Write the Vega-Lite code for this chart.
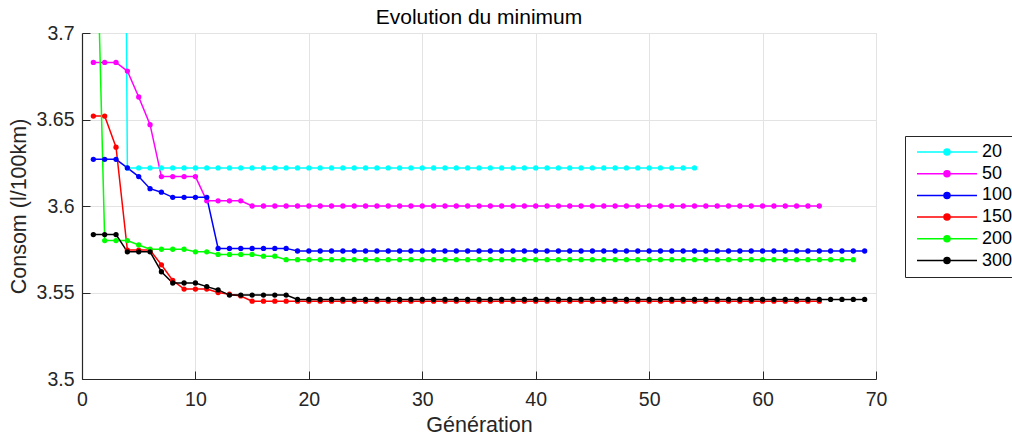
{
  "$schema": "https://vega.github.io/schema/vega-lite/v6.json",
  "width": 794,
  "height": 346,
  "autosize": {"type": "none"},
  "padding": {"left": 82, "top": 33, "right": 136, "bottom": 62},
  "background": "white",
  "view": {"stroke": "#dcdcdc", "strokeWidth": 1},
  "title": {"text": "Evolution du minimum", "font": "Liberation Sans", "fontSize": 21, "fontWeight": "normal", "color": "#000000", "anchor": "middle", "offset": 9, "dy": 14},
  "data": {"values": [
    {"g": 1, "20": 4.6, "50": 3.683, "100": 3.627, "150": 3.652, "200": 3.84, "300": 3.5835},
    {"g": 2, "20": 4.6, "50": 3.683, "100": 3.627, "150": 3.652, "200": 3.58, "300": 3.5835},
    {"g": 3, "20": 4.6, "50": 3.683, "100": 3.627, "150": 3.634, "200": 3.58, "300": 3.5835},
    {"g": 4, "20": 3.622, "50": 3.678, "100": 3.622, "150": 3.5745, "200": 3.58, "300": 3.5735},
    {"g": 5, "20": 3.622, "50": 3.663, "100": 3.617, "150": 3.5745, "200": 3.5775, "300": 3.5735},
    {"g": 6, "20": 3.622, "50": 3.647, "100": 3.61, "150": 3.5745, "200": 3.575, "300": 3.5735},
    {"g": 7, "20": 3.622, "50": 3.617, "100": 3.608, "150": 3.566, "200": 3.575, "300": 3.562},
    {"g": 8, "20": 3.622, "50": 3.617, "100": 3.605, "150": 3.557, "200": 3.575, "300": 3.5555},
    {"g": 9, "20": 3.622, "50": 3.617, "100": 3.605, "150": 3.552, "200": 3.575, "300": 3.5555},
    {"g": 10, "20": 3.622, "50": 3.617, "100": 3.605, "150": 3.552, "200": 3.5735, "300": 3.5555},
    {"g": 11, "20": 3.622, "50": 3.603, "100": 3.605, "150": 3.552, "200": 3.5735, "300": 3.5534},
    {"g": 12, "20": 3.622, "50": 3.603, "100": 3.5755, "150": 3.55, "200": 3.572, "300": 3.5515},
    {"g": 13, "20": 3.622, "50": 3.603, "100": 3.5755, "150": 3.549, "200": 3.572, "300": 3.5485},
    {"g": 14, "20": 3.622, "50": 3.603, "100": 3.5755, "150": 3.548, "200": 3.572, "300": 3.5485},
    {"g": 15, "20": 3.622, "50": 3.6, "100": 3.5755, "150": 3.545, "200": 3.572, "300": 3.5485},
    {"g": 16, "20": 3.622, "50": 3.6, "100": 3.5755, "150": 3.545, "200": 3.571, "300": 3.5485},
    {"g": 17, "20": 3.622, "50": 3.6, "100": 3.5755, "150": 3.545, "200": 3.571, "300": 3.5485},
    {"g": 18, "20": 3.622, "50": 3.6, "100": 3.5755, "150": 3.545, "200": 3.569, "300": 3.5485},
    {"g": 19, "20": 3.622, "50": 3.6, "100": 3.574, "150": 3.545, "200": 3.569, "300": 3.546},
    {"g": 20, "20": 3.622, "50": 3.6, "100": 3.574, "150": 3.545, "200": 3.569, "300": 3.546},
    {"g": 21, "20": 3.622, "50": 3.6, "100": 3.574, "150": 3.545, "200": 3.569, "300": 3.546},
    {"g": 22, "20": 3.622, "50": 3.6, "100": 3.574, "150": 3.545, "200": 3.569, "300": 3.546},
    {"g": 23, "20": 3.622, "50": 3.6, "100": 3.574, "150": 3.545, "200": 3.569, "300": 3.546},
    {"g": 24, "20": 3.622, "50": 3.6, "100": 3.574, "150": 3.545, "200": 3.569, "300": 3.546},
    {"g": 25, "20": 3.622, "50": 3.6, "100": 3.574, "150": 3.545, "200": 3.569, "300": 3.546},
    {"g": 26, "20": 3.622, "50": 3.6, "100": 3.574, "150": 3.545, "200": 3.569, "300": 3.546},
    {"g": 27, "20": 3.622, "50": 3.6, "100": 3.574, "150": 3.545, "200": 3.569, "300": 3.546},
    {"g": 28, "20": 3.622, "50": 3.6, "100": 3.574, "150": 3.545, "200": 3.569, "300": 3.546},
    {"g": 29, "20": 3.622, "50": 3.6, "100": 3.574, "150": 3.545, "200": 3.569, "300": 3.546},
    {"g": 30, "20": 3.622, "50": 3.6, "100": 3.574, "150": 3.545, "200": 3.569, "300": 3.546},
    {"g": 31, "20": 3.622, "50": 3.6, "100": 3.574, "150": 3.545, "200": 3.569, "300": 3.546},
    {"g": 32, "20": 3.622, "50": 3.6, "100": 3.574, "150": 3.545, "200": 3.569, "300": 3.546},
    {"g": 33, "20": 3.622, "50": 3.6, "100": 3.574, "150": 3.545, "200": 3.569, "300": 3.546},
    {"g": 34, "20": 3.622, "50": 3.6, "100": 3.574, "150": 3.545, "200": 3.569, "300": 3.546},
    {"g": 35, "20": 3.622, "50": 3.6, "100": 3.574, "150": 3.545, "200": 3.569, "300": 3.546},
    {"g": 36, "20": 3.622, "50": 3.6, "100": 3.574, "150": 3.545, "200": 3.569, "300": 3.546},
    {"g": 37, "20": 3.622, "50": 3.6, "100": 3.574, "150": 3.545, "200": 3.569, "300": 3.546},
    {"g": 38, "20": 3.622, "50": 3.6, "100": 3.574, "150": 3.545, "200": 3.569, "300": 3.546},
    {"g": 39, "20": 3.622, "50": 3.6, "100": 3.574, "150": 3.545, "200": 3.569, "300": 3.546},
    {"g": 40, "20": 3.622, "50": 3.6, "100": 3.574, "150": 3.545, "200": 3.569, "300": 3.546},
    {"g": 41, "20": 3.622, "50": 3.6, "100": 3.574, "150": 3.545, "200": 3.569, "300": 3.546},
    {"g": 42, "20": 3.622, "50": 3.6, "100": 3.574, "150": 3.545, "200": 3.569, "300": 3.546},
    {"g": 43, "20": 3.622, "50": 3.6, "100": 3.574, "150": 3.545, "200": 3.569, "300": 3.546},
    {"g": 44, "20": 3.622, "50": 3.6, "100": 3.574, "150": 3.545, "200": 3.569, "300": 3.546},
    {"g": 45, "20": 3.622, "50": 3.6, "100": 3.574, "150": 3.545, "200": 3.569, "300": 3.546},
    {"g": 46, "20": 3.622, "50": 3.6, "100": 3.574, "150": 3.545, "200": 3.569, "300": 3.546},
    {"g": 47, "20": 3.622, "50": 3.6, "100": 3.574, "150": 3.545, "200": 3.569, "300": 3.546},
    {"g": 48, "20": 3.622, "50": 3.6, "100": 3.574, "150": 3.545, "200": 3.569, "300": 3.546},
    {"g": 49, "20": 3.622, "50": 3.6, "100": 3.574, "150": 3.545, "200": 3.569, "300": 3.546},
    {"g": 50, "20": 3.622, "50": 3.6, "100": 3.574, "150": 3.545, "200": 3.569, "300": 3.546},
    {"g": 51, "20": 3.622, "50": 3.6, "100": 3.574, "150": 3.545, "200": 3.569, "300": 3.546},
    {"g": 52, "20": 3.622, "50": 3.6, "100": 3.574, "150": 3.545, "200": 3.569, "300": 3.546},
    {"g": 53, "20": 3.622, "50": 3.6, "100": 3.574, "150": 3.545, "200": 3.569, "300": 3.546},
    {"g": 54, "20": 3.622, "50": 3.6, "100": 3.574, "150": 3.545, "200": 3.569, "300": 3.546},
    {"g": 55, "50": 3.6, "100": 3.574, "150": 3.545, "200": 3.569, "300": 3.546},
    {"g": 56, "50": 3.6, "100": 3.574, "150": 3.545, "200": 3.569, "300": 3.546},
    {"g": 57, "50": 3.6, "100": 3.574, "150": 3.545, "200": 3.569, "300": 3.546},
    {"g": 58, "50": 3.6, "100": 3.574, "150": 3.545, "200": 3.569, "300": 3.546},
    {"g": 59, "50": 3.6, "100": 3.574, "150": 3.545, "200": 3.569, "300": 3.546},
    {"g": 60, "50": 3.6, "100": 3.574, "150": 3.545, "200": 3.569, "300": 3.546},
    {"g": 61, "50": 3.6, "100": 3.574, "150": 3.545, "200": 3.569, "300": 3.546},
    {"g": 62, "50": 3.6, "100": 3.574, "150": 3.545, "200": 3.569, "300": 3.546},
    {"g": 63, "50": 3.6, "100": 3.574, "150": 3.545, "200": 3.569, "300": 3.546},
    {"g": 64, "50": 3.6, "100": 3.574, "150": 3.545, "200": 3.569, "300": 3.546},
    {"g": 65, "50": 3.6, "100": 3.574, "150": 3.545, "200": 3.569, "300": 3.546},
    {"g": 66, "100": 3.574, "200": 3.569, "300": 3.546},
    {"g": 67, "100": 3.574, "200": 3.569, "300": 3.546},
    {"g": 68, "100": 3.574, "200": 3.569, "300": 3.546},
    {"g": 69, "100": 3.574, "300": 3.546}
  ]},
  "transform": [
    {"fold": ["20", "50", "100", "150", "200", "300"], "as": ["s", "v"]},
    {"filter": "isValid(datum.v)"}
  ],
  "encoding": {
    "x": {
      "field": "g", "type": "quantitative",
      "scale": {"domain": [0, 70], "nice": false, "zero": false},
      "axis": {
        "title": "Génération", "values": [0, 10, 20, 30, 40, 50, 60, 70],
        "labelFont": "Liberation Sans", "labelFontSize": 19.5, "labelColor": "#262626",
        "titleFont": "Liberation Sans", "titleFontSize": 21.5, "titleFontWeight": "normal", "titleColor": "#262626",
        "tickSize": -8, "tickColor": "#262626", "domainColor": "#262626", "domainWidth": 1.2,
        "grid": true, "gridColor": "#e3e3e3", "gridWidth": 1,
        "labelFlush": false, "labelOverlap": false, "labelPadding": 19, "titlePadding": 6
      }
    },
    "y": {
      "field": "v", "type": "quantitative",
      "scale": {"domain": [3.5, 3.7], "nice": false, "zero": false},
      "axis": {
        "title": "Consom (l/100km)", "values": [3.5, 3.55, 3.6, 3.65, 3.7], "format": ".2~f",
        "labelFont": "Liberation Sans", "labelFontSize": 19.5, "labelColor": "#262626",
        "titleFont": "Liberation Sans", "titleFontSize": 21.5, "titleFontWeight": "normal", "titleColor": "#262626",
        "tickSize": -8, "tickColor": "#262626", "domainColor": "#262626", "domainWidth": 1.2,
        "grid": true, "gridColor": "#e3e3e3", "gridWidth": 1,
        "labelFlush": false, "labelOverlap": false, "labelPadding": 16, "titlePadding": 6
      }
    },
    "color": {
      "field": "s", "type": "nominal",
      "scale": {"domain": ["20", "50", "100", "150", "200", "300"], "range": ["#00ffff", "#ff00ff", "#0000ff", "#ff0000", "#00ff00", "#000000"]},
      "legend": {
        "title": null, "orient": "none", "legendX": 823, "legendY": 103,
        "labelFont": "Liberation Sans", "labelFontSize": 18, "labelColor": "#000000",
        "symbolType": "M-1,0H1M-0.1,0A0.1,0.1 0 1,0 0.1,0A0.1,0.1 0 1,0 -0.1,0",
        "symbolSize": 3600, "symbolStrokeWidth": 1.5, "clipHeight": 20, "rowPadding": 1.7,
        "padding": 6, "strokeColor": "#262626", "fillColor": "#ffffff", "labelOffset": 4, "symbolOffset": 5,
        "encode": {"symbols": {"update": {"fill": {"scale": "color", "field": "value"}, "stroke": {"scale": "color", "field": "value"}}}}
      }
    }
  },
  "layer": [
    {"mark": {"type": "line", "strokeWidth": 1.5, "clip": true}},
    {"mark": {"type": "point", "filled": true, "size": 28, "opacity": 1, "clip": true}}
  ]
}
